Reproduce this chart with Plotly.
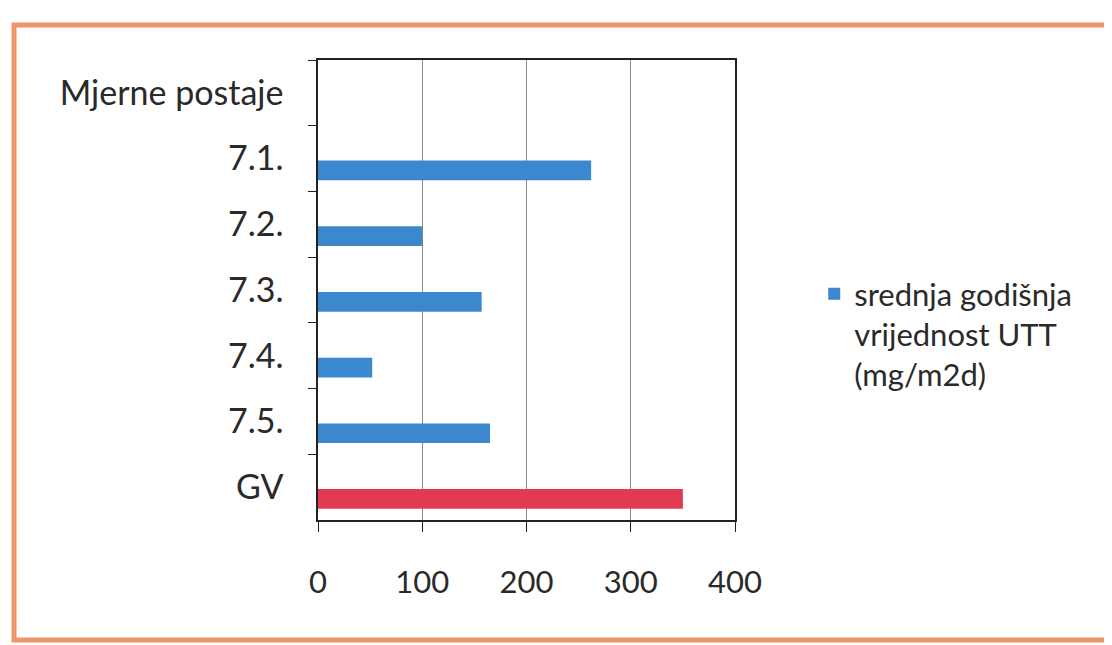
import plotly.graph_objects as go

# Data
categories = ["Mjerne postaje", "7.1.", "7.2.", "7.3.", "7.4.", "7.5.", "GV"]
station_values = [None, 262, 100, 157, 52, 165, None]
gv_values = [None, None, None, None, None, None, 350]
x_ticks = [0, 100, 200, 300, 400]
legend_label = "srednja godišnja<br>vrijednost UTT<br>(mg/m2d)"

BLUE = "#3C88CF"
RED = "#E23A52"
FONT = "Lato"
TXT = "#2a2a2a"

fig = go.Figure()
fig.add_trace(go.Bar(
    y=categories, x=station_values, orientation="h",
    marker=dict(color=BLUE, line=dict(width=0)),
    width=0.3, offset=0.03, name=legend_label, showlegend=True,
))
fig.add_trace(go.Bar(
    y=categories, x=gv_values, orientation="h",
    marker=dict(color=RED, line=dict(width=0)),
    width=0.3, offset=0.03, name="GV", showlegend=False,
))

fig.update_layout(
    width=1112, height=645,
    margin=dict(l=310, r=385, t=52, b=133),
    paper_bgcolor="white", plot_bgcolor="white",
    barmode="overlay",
    font=dict(family=FONT, color=TXT),
    legend=dict(
        x=1.19, y=0.55, xanchor="left", yanchor="top",
        font=dict(size=31, family=FONT, color=TXT),
        valign="top", itemwidth=30, bgcolor="rgba(0,0,0,0)",
    ),
    shapes=[dict(
        type="rect", xref="paper", yref="paper",
        x0=-0.729, x1=1.92, y0=-0.261, y1=1.076,
        line=dict(color="#F0956A", width=5), layer="below",
    )],
)

fig.update_xaxes(
    range=[0, 400], tickvals=x_ticks, ticktext=[str(v) for v in x_ticks],
    showgrid=True, gridcolor="#8a8a8a", gridwidth=1,
    showline=True, linecolor="#222", linewidth=1.5, mirror=True,
    ticks="outside", ticklen=10, tickcolor="#222",
    tickfont=dict(size=31, family=FONT, color=TXT),
    ticklabelstandoff=24, zeroline=False,
)
fig.update_yaxes(
    type="category", categoryorder="array", categoryarray=categories,
    autorange="reversed",
    showgrid=False,
    showline=True, linecolor="#222", linewidth=1.5, mirror=True,
    ticks="outside", ticklen=8, tickcolor="#222", tickson="boundaries",
    tickfont=dict(size=34, family=FONT, color=TXT),
    ticklabelstandoff=26,
)

fig.write_html("out.html")
